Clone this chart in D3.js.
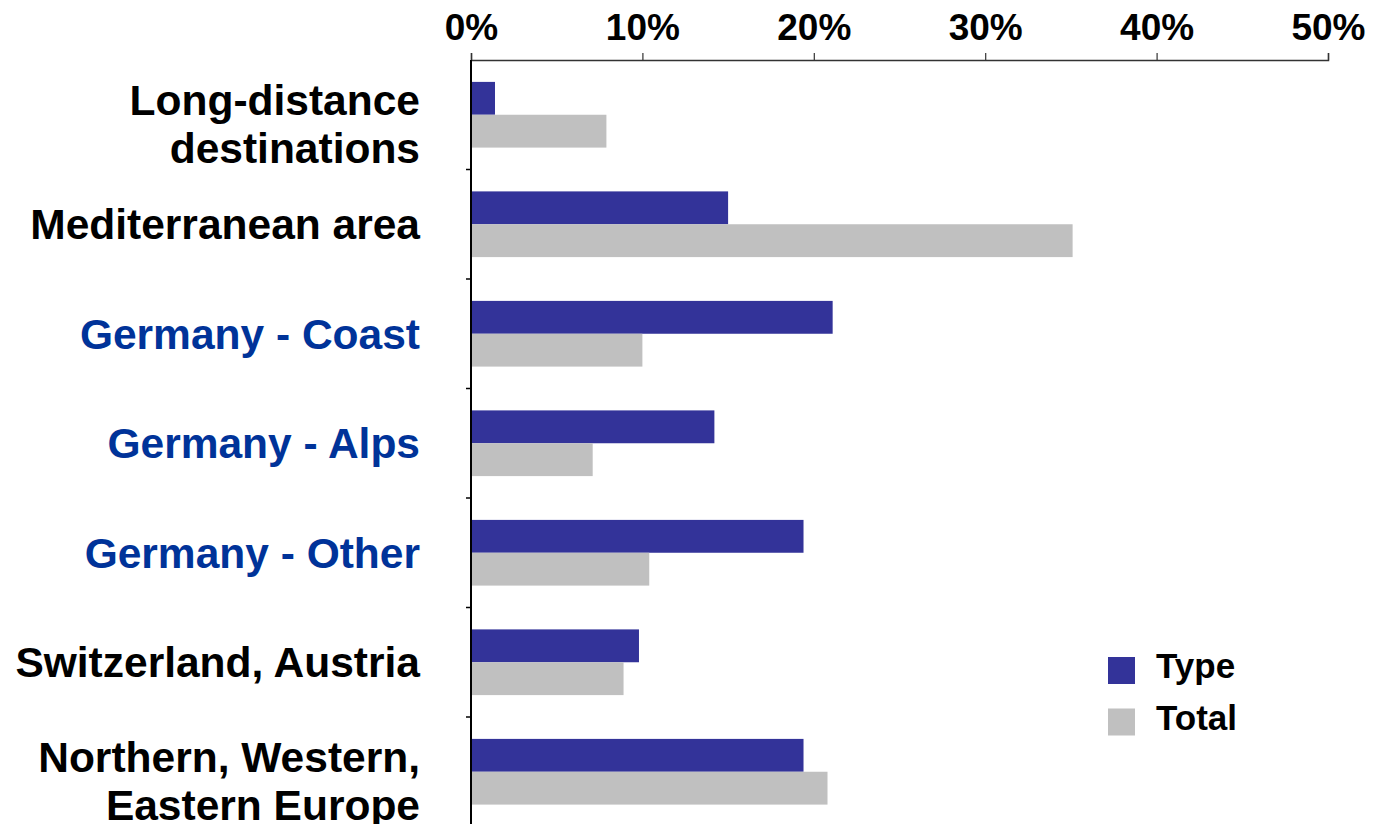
<!DOCTYPE html>
<html>
<head>
<meta charset="utf-8">
<script src="https://cdn.jsdelivr.net/npm/d3@7"></script>
<style>
  body { margin: 0; background: #fff; }
  svg text { font-family: "Liberation Sans", Arial, sans-serif; font-weight: bold; }
</style>
</head>
<body>
<div id="chart"></div>
<script>
// categories, top to bottom
const categories = [
  ["Long-distance", "destinations"],
  ["Mediterranean area"],
  ["Germany - Coast"],
  ["Germany - Alps"],
  ["Germany - Other"],
  ["Switzerland, Austria"],
  ["Northern, Western,", "Eastern Europe"]
];
const highlighted = [false, false, true, true, true, false, false];
const seriesNames = ["Type", "Total"];
const typeValues  = [1.4, 15.0, 21.1, 14.2, 19.4, 9.8, 19.4];
const totalValues = [7.9, 35.1, 10.0, 7.1, 10.4, 8.9, 20.8];
const xTicks = [0, 10, 20, 30, 40, 50];

const colors = { Type: "#333399", Total: "#c0c0c0" };

const W = 1380, H = 824;
const plotLeft = 471, plotRight = 1328, plotTop = 60, plotBottom = 826.5;

const svg = d3.select("#chart").append("svg")
  .attr("width", W).attr("height", H);

const x = d3.scaleLinear().domain([0, 50]).range([plotLeft, plotRight]);
const y = d3.scaleBand()
  .domain(d3.range(categories.length))
  .range([plotTop, plotBottom])
  .paddingInner(0.4)
  .paddingOuter(0.2);
const ySub = d3.scaleBand().domain(seriesNames).range([0, y.bandwidth()]);

const rows = categories.map((c, i) => ({ i, Type: typeValues[i], Total: totalValues[i] }));

// bars
const g = svg.selectAll(".row").data(rows).enter().append("g")
  .attr("class", "row")
  .attr("transform", d => `translate(0,${y(d.i)})`);

g.selectAll("rect")
  .data(d => seriesNames.map(s => ({ s, v: d[s] })))
  .enter().append("rect")
  .attr("x", x(0))
  .attr("y", d => ySub(d.s))
  .attr("width", d => x(d.v) - x(0))
  .attr("height", ySub.bandwidth())
  .attr("fill", d => colors[d.s]);

// top axis
const xAxis = d3.axisTop(x)
  .tickValues(xTicks)
  .tickFormat(d => d + "%")
  .tickSize(7)
  .tickSizeOuter(7)
  .tickPadding(13);

const gx = svg.append("g").attr("transform", `translate(0,${plotTop})`).call(xAxis);
gx.select(".domain").attr("stroke", "#333").attr("stroke-width", 1.5);
gx.selectAll(".tick line").attr("stroke", "#333").attr("stroke-width", 1.2);
gx.selectAll(".tick text")
  .attr("font-size", 37)
  .attr("fill", "#000")
  .style("font-family", '"Liberation Sans", Arial, sans-serif')
  .style("font-weight", "bold");

// left axis line + ticks at band boundaries
svg.append("line")
  .attr("x1", plotLeft).attr("x2", plotLeft)
  .attr("y1", plotTop).attr("y2", H)
  .attr("stroke", "#000").attr("stroke-width", 2);

const step = y.step();
const boundaries = d3.range(1, categories.length).map(i => y(i) - y.paddingInner() * step / 2);
svg.selectAll(".ytick").data(boundaries).enter().append("line")
  .attr("x1", plotLeft - 5).attr("x2", plotLeft)
  .attr("y1", d => d).attr("y2", d => d)
  .attr("stroke", "#000").attr("stroke-width", 1.5);

// category labels
const lineH = 48;
const cats = svg.selectAll(".cat").data(categories).enter().append("text")
  .attr("class", "cat")
  .attr("text-anchor", "end")
  .attr("font-size", 42.5)
  .attr("fill", (d, i) => highlighted[i] ? "#003399" : "#000");

cats.each(function(lines, i) {
  const cy = y(i) + y.bandwidth() / 2;
  const first = lines.length > 1 ? cy + 0.5 : cy + 15;
  d3.select(this).selectAll("tspan").data(lines).enter().append("tspan")
    .attr("x", 420)
    .attr("y", (l, j) => first + j * lineH)
    .text(l => l);
});

// legend
const legend = svg.append("g").attr("transform", "translate(1108,657)");
const li = legend.selectAll("g").data(seriesNames).enter().append("g")
  .attr("transform", (d, i) => `translate(0,${i * 51.5})`);
li.append("rect")
  .attr("width", 27).attr("height", 27)
  .attr("fill", d => colors[d]);
li.append("text")
  .attr("x", 48).attr("y", 21)
  .attr("font-size", 35)
  .attr("fill", "#000")
  .text(d => d);
</script>
</body>
</html>
